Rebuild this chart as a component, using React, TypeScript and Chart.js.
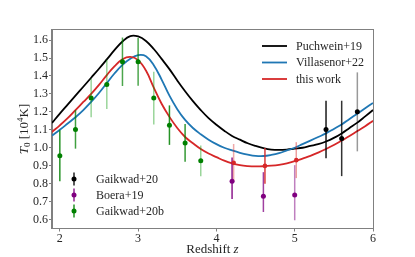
import React, { useEffect, useRef } from "react";
import { Chart, registerables } from "chart.js";

Chart.register(...registerables);

const FONT = "'Liberation Serif', 'Times New Roman', serif";

// ---- model curves, sampled in redshift ----
const curveZ = [
  1.9, 2.0, 2.1, 2.2, 2.3, 2.4, 2.5, 2.6, 2.7, 2.8, 2.9, 3.0, 3.1, 3.2, 3.3, 3.4, 3.5, 3.6, 3.7, 3.8, 3.9,
  4.0, 4.1, 4.2, 4.3, 4.4, 4.5, 4.6, 4.7, 4.8, 4.9, 5.0, 5.1, 5.2, 5.3, 5.4, 5.5, 5.6, 5.7, 5.8, 5.9, 6.0,
];
const puchwein19 = [
  1.138, 1.19, 1.24, 1.29, 1.34, 1.39, 1.44, 1.492, 1.545, 1.592, 1.622, 1.62, 1.595, 1.55, 1.495, 1.438, 1.375,
  1.315, 1.26, 1.21, 1.165, 1.128, 1.095, 1.066, 1.045, 1.025, 1.01, 0.998, 0.99, 0.988, 0.99, 0.995, 1.0, 1.01,
  1.02, 1.035, 1.055, 1.08, 1.11, 1.14, 1.175, 1.21,
];
const villasenor22 = [
  1.068, 1.1, 1.135, 1.17, 1.21, 1.255, 1.305, 1.36, 1.415, 1.462, 1.496, 1.516, 1.51, 1.46, 1.38, 1.29, 1.215,
  1.155, 1.11, 1.075, 1.045, 1.02, 1.0, 0.985, 0.972, 0.962, 0.955, 0.954, 0.96, 0.97, 0.985, 1.0, 1.02, 1.04,
  1.06, 1.08, 1.105, 1.13, 1.16, 1.19, 1.22, 1.25,
];
const thisWork = [
  1.088, 1.125, 1.165, 1.21, 1.255, 1.3, 1.35, 1.405, 1.455, 1.493, 1.506, 1.488, 1.43, 1.335, 1.245, 1.172, 1.11,
  1.06, 1.025, 0.993, 0.968, 0.948, 0.928, 0.913, 0.903, 0.898, 0.896, 0.897, 0.9, 0.905, 0.913, 0.925, 0.94,
  0.955, 0.973, 0.993, 1.015, 1.04, 1.065, 1.093, 1.12, 1.15,
];

// ---- measurements ----
const gaikwad20bZ = [2.0, 2.2, 2.4, 2.6, 2.8, 3.0, 3.2, 3.4, 3.6, 3.8];
const gaikwad20bT = [0.955, 1.102, 1.277, 1.353, 1.479, 1.479, 1.277, 1.126, 1.027, 0.927];
const gaikwad20bErr = [0.142, 0.107, 0.107, 0.137, 0.135, 0.133, 0.147, 0.11, 0.105, 0.086];

const boera19Z = [4.2, 4.6, 5.0];
const boera19T = [0.814, 0.73, 0.737];
const boera19ErrHi = [0.132, 0.134, 0.166];
const boera19ErrLo = [0.099, 0.088, 0.141];

const thisWorkPtZ = [4.22, 4.62, 5.02];
const thisWorkPtT = [0.916, 0.899, 0.931];
const thisWorkPtErr = [0.105, 0.1, 0.1];

const gaikwad20Z = [5.4, 5.6, 5.8];
const gaikwad20T = [1.102, 1.052, 1.2];
const gaikwad20Err = [0.16, 0.21, 0.22];

// ---- axes ----
const xTicks = [2, 3, 4, 5, 6];
const yTicks = [0.6, 0.7, 0.8, 0.9, 1.0, 1.1, 1.2, 1.3, 1.4, 1.5, 1.6];
const xRange = [1.9, 6.0];
const yRange = [0.553, 1.656];

const curveLabels = ["Puchwein+19", "Villasenor+22", "this work"];
const pointLabels = ["Gaikwad+20", "Boera+19", "Gaikwad+20b"];

// ---- styles ----
const BLACK = "#000000";
const BLUE = "#1f77b4";
const RED = "#d62728";
const GREEN = "#008000";
const PURPLE = "#800080";
const FRAME = "#808080";
const TEXT = "#262626";

const greenBarColors = [
  "rgba(0,128,0,0.85)", "rgba(0,128,0,0.75)", "rgba(0,150,0,0.4)", "rgba(0,150,0,0.4)", "rgba(0,128,0,0.7)",
  "rgba(0,128,0,0.7)", "rgba(0,150,0,0.4)", "rgba(0,128,0,0.85)", "rgba(0,128,0,0.8)", "rgba(0,150,0,0.4)",
];
const purpleBarColors = ["rgba(128,0,128,0.9)", "rgba(128,0,128,0.75)", "rgba(128,0,128,0.5)"];
const redBarColors = ["rgba(214,39,40,0.4)", "rgba(214,39,40,0.9)", "rgba(214,39,40,0.45)"];
const blackBarColors = ["rgba(0,0,0,0.9)", "rgba(0,0,0,0.8)", "rgba(0,0,0,0.4)"];

function xy(xs: number[], ys: number[]) {
  return xs.map((x, i) => ({ x, y: ys[i] }));
}

export default function App() {
  const ref = useRef<HTMLCanvasElement>(null);

  useEffect(() => {
    const canvas = ref.current!;

    const barGroups = [
      { z: gaikwad20bZ, t: gaikwad20bT, hi: gaikwad20bErr, lo: gaikwad20bErr, colors: greenBarColors },
      { z: boera19Z, t: boera19T, hi: boera19ErrHi, lo: boera19ErrLo, colors: purpleBarColors },
      { z: thisWorkPtZ, t: thisWorkPtT, hi: thisWorkPtErr, lo: thisWorkPtErr, colors: redBarColors },
      { z: gaikwad20Z, t: gaikwad20T, hi: gaikwad20Err, lo: gaikwad20Err, colors: blackBarColors },
    ];

    const errorBars = {
      id: "errorBars",
      beforeDatasetDraw(chart: any, args: any) {
        if (args.index !== 3) return;
        const { ctx, chartArea } = chart;
        const xs = chart.scales.x;
        const ys = chart.scales.y;
        ctx.save();
        ctx.beginPath();
        ctx.rect(chartArea.left, chartArea.top, chartArea.right - chartArea.left, chartArea.bottom - chartArea.top);
        ctx.clip();
        ctx.lineWidth = 1.5;
        for (const g of barGroups) {
          g.z.forEach((z, i) => {
            const px = xs.getPixelForValue(z);
            ctx.strokeStyle = g.colors[i];
            ctx.beginPath();
            ctx.moveTo(px, ys.getPixelForValue(g.t[i] + g.hi[i]));
            ctx.lineTo(px, ys.getPixelForValue(g.t[i] - g.lo[i]));
            ctx.stroke();
          });
        }
        ctx.restore();
      },
    };

    const decorations = {
      id: "decorations",
      afterDraw(chart: any) {
        const { ctx, chartArea } = chart;
        const { left, right, top, bottom } = chartArea;
        ctx.save();
        // frame
        ctx.strokeStyle = FRAME;
        ctx.lineWidth = 1;
        ctx.strokeRect(Math.round(left) - 0.5, Math.round(top) - 0.5, Math.round(right - left) + 1, Math.round(bottom - top) + 1);

        // curve legend (upper right)
        const curveColors = [BLACK, BLUE, RED];
        ctx.font = `12px ${FONT}`;
        ctx.textBaseline = "middle";
        ctx.textAlign = "left";
        curveLabels.forEach((lab, i) => {
          const y = top + 16 + i * 16.5;
          ctx.strokeStyle = curveColors[i];
          ctx.lineWidth = 1.8;
          ctx.beginPath();
          ctx.moveTo(right - 111, y);
          ctx.lineTo(right - 86, y);
          ctx.stroke();
          ctx.fillStyle = TEXT;
          ctx.fillText(lab, right - 77, y + 0.5);
        });

        // measurement legend (lower left)
        const ptColors = [BLACK, PURPLE, GREEN];
        pointLabels.forEach((lab, i) => {
          const y = bottom - 49 + i * 16;
          const x = left + 22;
          ctx.strokeStyle = ptColors[i];
          ctx.lineWidth = 1.3;
          ctx.beginPath();
          ctx.moveTo(x, y - 6.5);
          ctx.lineTo(x, y + 6.5);
          ctx.stroke();
          ctx.fillStyle = ptColors[i];
          ctx.beginPath();
          ctx.arc(x, y, 2.5, 0, Math.PI * 2);
          ctx.fill();
          ctx.fillStyle = TEXT;
          ctx.fillText(lab, left + 44, y + 0.5);
        });

        // x title
        ctx.fillStyle = TEXT;
        ctx.textBaseline = "alphabetic";
        const cx = (left + right) / 2;
        ctx.font = `13px ${FONT}`;
        const w1 = ctx.measureText("Redshift ").width;
        ctx.font = `italic 13px ${FONT}`;
        const w2 = ctx.measureText("z").width;
        const x0 = cx - (w1 + w2) / 2;
        ctx.font = `13px ${FONT}`;
        ctx.fillText("Redshift ", x0, 253);
        ctx.font = `italic 13px ${FONT}`;
        ctx.fillText("z", x0 + w1, 253);

        // y title (rotated)
        ctx.translate(27.5, (top + bottom) / 2);
        ctx.rotate(-Math.PI / 2);
        const parts: [string, string, number][] = [
          ["T", `italic 13px ${FONT}`, 0],
          ["0", `9px ${FONT}`, 2.5],
          [" [10", `13px ${FONT}`, 0],
          ["4", `9px ${FONT}`, -5],
          ["K]", `13px ${FONT}`, 0],
        ];
        let total = 0;
        for (const [s, f] of parts) {
          ctx.font = f;
          total += ctx.measureText(s).width;
        }
        let px = -total / 2;
        for (const [s, f, dy] of parts) {
          ctx.font = f;
          ctx.fillText(s, px, dy);
          px += ctx.measureText(s).width;
        }
        ctx.restore();
      },
    };

    const lineStyle = { borderWidth: 1.8, pointRadius: 0, tension: 0.4, fill: false };

    const chart = new Chart(canvas, {
      type: "scatter",
      data: {
        datasets: [
          { label: "Gaikwad+20b", data: xy(gaikwad20bZ, gaikwad20bT), backgroundColor: GREEN, pointRadius: 2.5, borderWidth: 0 },
          { label: "Boera+19", data: xy(boera19Z, boera19T), backgroundColor: PURPLE, pointRadius: 2.5, borderWidth: 0 },
          { label: "this work pts", data: xy(thisWorkPtZ, thisWorkPtT), backgroundColor: RED, pointRadius: 2.3, borderWidth: 0 },
          { label: "Gaikwad+20", data: xy(gaikwad20Z, gaikwad20T), backgroundColor: BLACK, pointRadius: 2.5, borderWidth: 0 },
          { type: "line", label: "this work", data: xy(curveZ, thisWork), borderColor: RED, ...lineStyle } as any,
          { type: "line", label: "Villasenor+22", data: xy(curveZ, villasenor22), borderColor: BLUE, ...lineStyle } as any,
          { type: "line", label: "Puchwein+19", data: xy(curveZ, puchwein19), borderColor: BLACK, ...lineStyle } as any,
        ],
      },
      options: {
        animation: false,
        responsive: false,
        devicePixelRatio: 1,
        events: [],
        layout: { padding: { left: 0, top: 30, right: 42, bottom: 0 } },
        plugins: { legend: { display: false }, tooltip: { enabled: false } },
        scales: {
          x: {
            type: "linear",
            min: xRange[0],
            max: xRange[1],
            afterBuildTicks: (s: any) => {
              s.ticks = xTicks.map((v) => ({ value: v }));
            },
            afterFit: (s: any) => {
              s.height = 29;
            },
            grid: { drawOnChartArea: false, drawTicks: true, tickLength: 3.5, color: FRAME },
            border: { color: FRAME },
            ticks: {
              font: { family: FONT, size: 12 },
              color: TEXT,
              padding: 0,
              maxRotation: 0,
              callback: (v: any) => String(v),
            },
          },
          y: {
            type: "linear",
            min: yRange[0],
            max: yRange[1],
            afterBuildTicks: (s: any) => {
              s.ticks = yTicks.map((v) => ({ value: v }));
            },
            afterFit: (s: any) => {
              s.width = 52;
            },
            grid: { drawOnChartArea: false, drawTicks: true, tickLength: 3, color: FRAME },
            border: { color: FRAME },
            ticks: {
              font: { family: FONT, size: 12 },
              color: TEXT,
              padding: 1,
              callback: (v: any) => Number(v).toFixed(1),
            },
          },
        },
      },
      plugins: [errorBars, decorations],
    });

    return () => chart.destroy();
  }, []);

  return (
    <div style={{ position: "fixed", left: 0, top: 0, width: 415, height: 257, background: "#ffffff" }}>
      <canvas ref={ref} width={415} height={257} style={{ display: "block", width: 415, height: 257 }} />
    </div>
  );
}
